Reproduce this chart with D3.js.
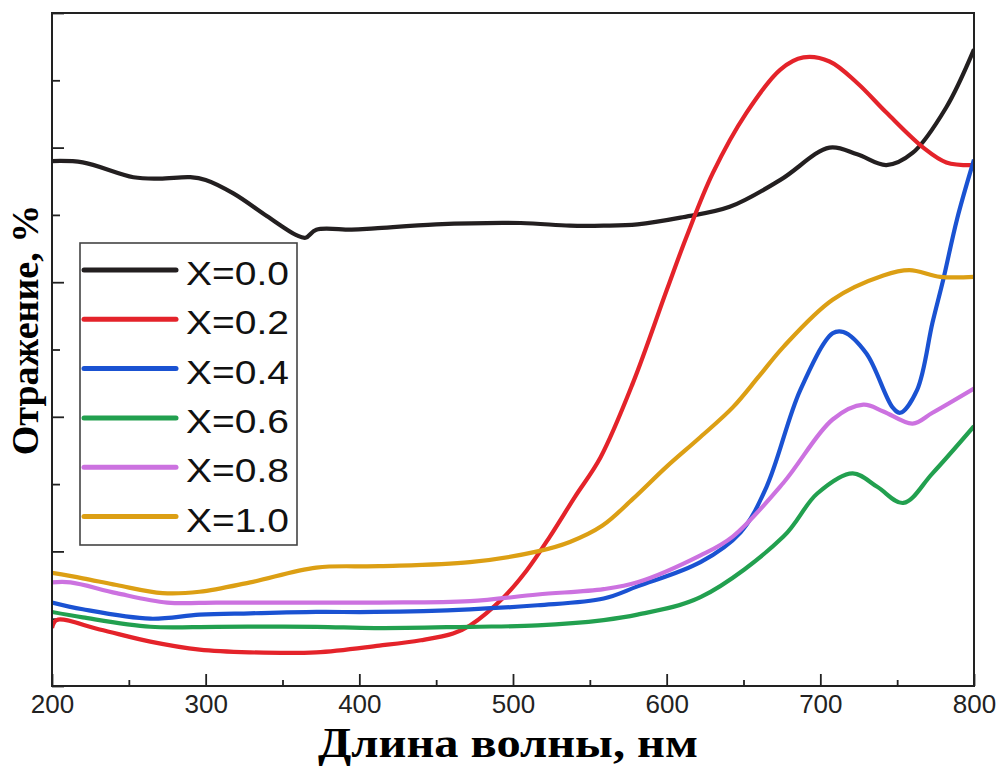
<!DOCTYPE html>
<html>
<head>
<meta charset="utf-8">
<script src="https://cdn.jsdelivr.net/npm/d3@7"></script>
<style>
  body { margin: 0; background: #fff; }
  svg { display: block; }
</style>
</head>
<body>
<div id="chart"></div>
<script>
// spectra: [wavelength nm, reflectance (a.u. %)]
var series_x00 = [[200,39.0],[220,38.9],[253,37.8],[270,37.7],[290,37.8],[300,37.6],[318,36.6],[340,34.9],[359,33.5],[365,33.3],[372,33.9],[395,33.9],[410,34.0],[450,34.3],[505,34.4],[537,34.2],[559,34.2],[581,34.3],[609,34.8],[641,35.6],[674,37.6],[706,40.0],[724,39.5],[743,38.7],[760,39.6],[782,43.0],[800,47.3]]
var series_x02 = [[200,4.3],[203,4.9],[231,4.2],[264,3.3],[296,2.7],[329,2.5],[372,2.5],[413,3.0],[440,3.4],[461,3.9],[472,4.5],[494,6.6],[509,8.6],[524,11.1],[540,14.0],[557,17.0],[578,22.5],[600,29.4],[613,33.4],[630,38.1],[652,42.6],[674,45.8],[689,46.7],[706,46.4],[724,44.8],[743,42.6],[767,40.0],[782,38.9],[800,38.7]]
var series_x04 = [[200,6.2],[220,5.7],[264,5.0],[296,5.3],[329,5.4],[372,5.5],[410,5.5],[472,5.7],[516,6.0],[559,6.5],[581,7.4],[622,9.2],[648,11.4],[665,14.8],[687,22.0],[708,26.2],[715,26.3],[730,24.7],[747,20.7],[752,20.3],[763,22.0],[773,27.0],[780,30.2],[789,34.7],[800,39.1]]
var series_x06 = [[200,5.5],[220,5.1],[264,4.4],[307,4.4],[372,4.4],[410,4.3],[472,4.4],[516,4.5],[559,4.9],[581,5.3],[622,6.6],[676,11.1],[698,14.3],[721,15.8],[737,14.8],[754,13.6],[773,15.8],[800,19.3]]
var series_x08 = [[200,7.7],[212,7.7],[242,6.9],[275,6.2],[307,6.2],[350,6.2],[413,6.2],[472,6.3],[516,6.8],[559,7.2],[581,7.7],[622,9.7],[643,11.1],[676,15.1],[708,19.8],[728,20.9],[741,20.4],[760,19.5],[773,20.3],[800,22.1]]
var series_x10 = [[200,8.4],[220,8.0],[242,7.5],[272,6.9],[296,7.0],[329,7.7],[372,8.8],[413,8.9],[472,9.2],[516,10.0],[537,10.7],[558,11.9],[578,13.9],[600,16.3],[622,18.5],[643,20.7],[660,23.0],[676,25.2],[708,28.7],[741,30.5],[758,30.9],[778,30.4],[800,30.4]]

var labels = ['X=0.0', 'X=0.2', 'X=0.4', 'X=0.6', 'X=0.8', 'X=1.0']
var line_colors = ['#231f20', '#e4232a', '#1a52d2', '#22a04f', '#cc72e0', '#dc9f14']
var x_major = [200, 300, 400, 500, 600, 700, 800]
var x_minor = [250, 350, 450, 550, 650, 750]
var y_major = [0, 10, 20, 30, 40, 50]
var y_minor = [5, 15, 25, 35, 45]

var all_series = [series_x00, series_x02, series_x04, series_x06, series_x08, series_x10]

var width = 1002, height = 767
var plot = { left: 52, right: 974, top: 13, bottom: 686 }

var svg = d3.select('#chart')
    .append('svg')
        .attr('width', width)
        .attr('height', height)

var x = d3.scaleLinear()
    .domain([200, 800])
    .range([plot.left, plot.right])

var y = d3.scaleLinear()
    .domain([0, 50])
    .range([plot.bottom, plot.top])

// ticks point inward, no y labels in the original
function styleAxis(g){
    g.select('.domain').remove()
    g.selectAll('.tick line').attr('stroke', '#222').attr('stroke-width', 1.8)
}

svg.append('g')
    .attr('transform', 'translate(' + plot.left + ',0)')
    .call(d3.axisLeft(y).tickValues(y_major).tickSize(-12).tickFormat(''))
    .call(styleAxis)

svg.append('g')
    .attr('transform', 'translate(' + plot.left + ',0)')
    .call(d3.axisLeft(y).tickValues(y_minor).tickSize(-8).tickFormat(''))
    .call(styleAxis)

var xAxis = svg.append('g')
    .attr('transform', 'translate(0,' + plot.bottom + ')')
    .call(d3.axisBottom(x).tickValues(x_major).tickSize(-12).tickPadding(9).tickFormat(d3.format('d')))
    .call(styleAxis)

xAxis.selectAll('text')
    .attr('fill', '#222')
    .attr('font-family', '"Liberation Sans", Arial, sans-serif')
    .attr('font-size', '26px')

svg.append('g')
    .attr('transform', 'translate(0,' + plot.bottom + ')')
    .call(d3.axisBottom(x).tickValues(x_minor).tickSize(-6).tickFormat(''))
    .call(styleAxis)

var line = d3.line()
    .x(function(d){ return x(d[0]) })
    .y(function(d){ return y(d[1]) })
    .curve(d3.curveCatmullRom.alpha(0.5))

svg.append('defs').append('clipPath')
    .attr('id', 'clip')
    .append('rect')
        .attr('x', plot.left)
        .attr('y', plot.top)
        .attr('width', plot.right - plot.left)
        .attr('height', plot.bottom - plot.top)

svg.append('g')
    .attr('clip-path', 'url(#clip)')
    .selectAll('path')
    .data(all_series)
    .enter()
    .append('path')
        .attr('d', line)
        .attr('fill', 'none')
        .attr('stroke', function(d, i){ return line_colors[i] })
        .attr('stroke-width', 4.2)
        .attr('stroke-linejoin', 'round')

// frame
svg.append('rect')
    .attr('x', plot.left)
    .attr('y', plot.top)
    .attr('width', plot.right - plot.left)
    .attr('height', plot.bottom - plot.top)
    .attr('fill', 'none')
    .attr('stroke', '#222')
    .attr('stroke-width', 2)

// legend
var legend = svg.append('g')
    .attr('transform', 'translate(80,243)')

legend.append('rect')
    .attr('width', 217)
    .attr('height', 302)
    .attr('fill', '#fff')
    .attr('stroke', '#444')
    .attr('stroke-width', 1.6)

var items = legend.selectAll('g.item')
    .data(labels)
    .enter()
    .append('g')
        .attr('class', 'item')
        .attr('transform', function(d, i){ return 'translate(0,' + (27 + i * 49.3) + ')' })

items.append('line')
    .attr('x1', 4)
    .attr('x2', 96)
    .attr('stroke', function(d, i){ return line_colors[i] })
    .attr('stroke-width', 5)
    .attr('stroke-linecap', 'round')

items.append('text')
    .attr('x', 106)
    .attr('y', 15)
    .attr('font-family', '"Liberation Sans", Arial, sans-serif')
    .attr('font-size', '34px')
    .attr('textLength', 103)
    .attr('lengthAdjust', 'spacingAndGlyphs')
    .attr('fill', '#111')
    .text(function(d){ return d })

// axis titles
svg.append('text')
    .attr('x', 508)
    .attr('y', 757)
    .attr('text-anchor', 'middle')
    .attr('font-family', '"Liberation Serif", "Times New Roman", serif')
    .attr('font-weight', 'bold')
    .attr('font-size', '42px')
    .attr('textLength', 380)
    .attr('lengthAdjust', 'spacingAndGlyphs')
    .attr('fill', '#000')
    .text('Длина волны, нм')

svg.append('text')
    .attr('transform', 'translate(38,330) rotate(-90)')
    .attr('text-anchor', 'middle')
    .attr('font-family', '"Liberation Serif", "Times New Roman", serif')
    .attr('font-weight', 'bold')
    .attr('font-size', '38px')
    .attr('fill', '#000')
    .text('Отражение, %')
</script>
</body>
</html>
